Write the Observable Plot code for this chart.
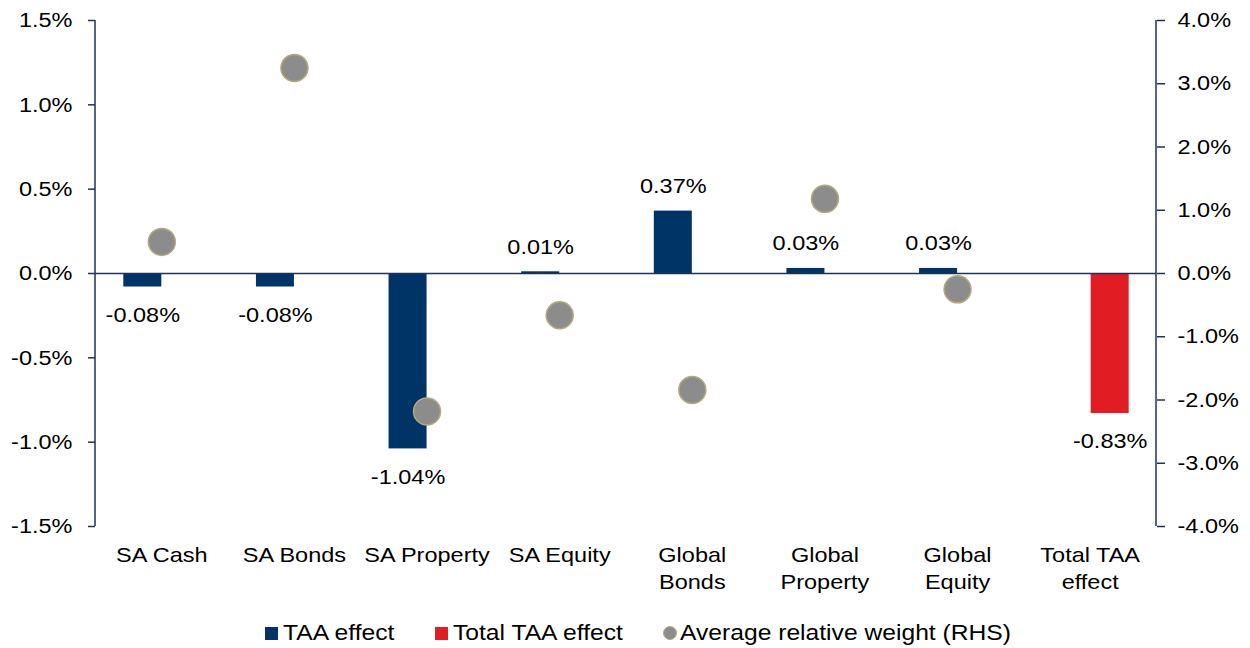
<!DOCTYPE html>
<html>
<head>
<meta charset="utf-8">
<script src="https://cdn.jsdelivr.net/npm/d3@7"></script>
<script src="https://cdn.jsdelivr.net/npm/@observablehq/plot@0.6"></script>
<style>
  html, body { margin: 0; padding: 0; background: #fff; }
  body { width: 1250px; height: 648px; overflow: hidden; font-family: "Liberation Sans", Arial, sans-serif; }
  #legend { display: flex; justify-content: center; align-items: center; font-size: 22px; color: #000; height: 30px; margin-top: 12px; padding-left: 26px; }
  .item { display: flex; align-items: center; margin: 0 20px; }
  .sw { width: 13px; height: 13px; margin-right: 5px; flex: none; }
  .dotsw { width: 12px; height: 12px; border-radius: 50%; background: #8c8c8c; border: 1.5px solid #b5a97f; margin-right: 3px; flex: none; }
  .lbl { display: inline-block; white-space: nowrap; }
  .lbl span { display: inline-block; transform: scaleX(1.12); transform-origin: left center; }
</style>
</head>
<body>
<div id="chart"></div>
<div id="legend">
  <div class="item"><div class="sw" style="background:#003366"></div><div class="lbl"><span>TAA effect</span></div></div>
  <div class="item"><div class="sw" style="background:#e21c23"></div><div class="lbl"><span>Total TAA effect</span></div></div>
  <div class="item"><div class="dotsw"></div><div class="lbl"><span>Average relative weight (RHS)</span></div></div>
</div>
<script>
const categories = ["SA Cash", "SA Bonds", "SA Property", "SA Equity", "Global Bonds", "Global Property", "Global Equity", "Total TAA effect"];
const categoryLabels = ["SA Cash", "SA Bonds", "SA Property", "SA Equity", "Global\nBonds", "Global\nProperty", "Global\nEquity", "Total TAA\neffect"];
const taaEffect = [-0.08, -0.08, -1.04, 0.01, 0.37, 0.03, 0.03, null];
const totalTaaEffect = [null, null, null, null, null, null, null, -0.83];
const avgRelWeight = [0.50, 3.25, -2.18, -0.66, -1.84, 1.18, -0.25, null];
const leftTicks = [-1.5, -1.0, -0.5, 0.0, 0.5, 1.0, 1.5];
const rightTicks = [-4, -3, -2, -1, 0, 1, 2, 3, 4];
const leftMax = 1.5, rightMax = 4.0;
const ratio = leftMax / rightMax;

const taaData = categories.map((c, i) => ({c, v: taaEffect[i]})).filter(d => d.v != null);
const totalData = categories.map((c, i) => ({c, v: totalTaaEffect[i]})).filter(d => d.v != null);
const dotData = categories.map((c, i) => ({c, v: avgRelWeight[i]})).filter(d => d.v != null);
const labelMap = new Map(categories.map((c, i) => [c, categoryLabels[i]]));

const W = 1250, H = 606, ML = 95, MR = 94, MT = 20, MB = 80;
const band = (W - ML - MR) / categories.length;
const barW = 38;
const leftInsetL = band / 2 - barW, leftInsetR = band / 2;
const rightInsetL = band / 2 + 1, rightInsetR = band / 2 - barW - 1;

const navy = "#003366", red = "#e21c23", axisCol = "#1f3354";
const fmt = v => v.toFixed(2) + "%";
const FS = 21;

const chart = Plot.plot({
  width: W,
  height: H,
  marginLeft: ML,
  marginRight: MR,
  marginTop: MT,
  marginBottom: MB,
  style: {fontFamily: "'Liberation Sans', Arial, sans-serif", fontSize: FS + "px", color: "#000", background: "#fff"},
  x: {domain: categories, padding: 0, round: false, label: null},
  y: {domain: [-leftMax, leftMax], label: null},
  marks: [
    Plot.barY(taaData, {x: "c", y: "v", fill: navy, insetLeft: leftInsetL, insetRight: leftInsetR}),
    Plot.barY(totalData, {x: "c", y: "v", fill: red, insetLeft: rightInsetL, insetRight: rightInsetR}),
    Plot.ruleY([0], {stroke: axisCol, strokeWidth: 1.5}),
    Plot.text(taaData, {x: "c", y: "v", text: d => fmt(d.v), dx: -barW / 2, fontSize: FS, fill: "#000",
      filter: d => d.v < 0, dy: 28}),
    Plot.text(taaData, {x: "c", y: "v", text: d => fmt(d.v), dx: -barW / 2, fontSize: FS, fill: "#000",
      filter: d => d.v >= 0, dy: -25}),
    Plot.text(totalData, {x: "c", y: "v", text: d => fmt(d.v), dx: barW / 2 + 1, fontSize: FS, fill: "#000", dy: 28}),
    Plot.dot(dotData, {x: "c", y: d => d.v * ratio, r: 13.5, fill: "#8c8c8c", stroke: "#b5a97f", strokeWidth: 1.5}),
    Plot.axisY({anchor: "left", ticks: leftTicks, tickFormat: d => d.toFixed(1) + "%", tickSize: 7, tickPadding: 16, stroke: axisCol, strokeWidth: 1.5, fontSize: FS, fill: "#000"}),
    Plot.axisY({anchor: "right", ticks: rightTicks.map(t => t * ratio), tickFormat: d => (d / ratio).toFixed(1) + "%", tickSize: 8, tickPadding: 13, stroke: axisCol, strokeWidth: 1.5, fontSize: FS, fill: "#000"}),
    Plot.axisX({tickSize: 0, tickPadding: 16, tickFormat: d => labelMap.get(d), fontSize: FS, fill: "#000", lineHeight: 1.3})
  ]
});

const svg = d3.select(chart);
svg.append("line").attr("x1", ML).attr("x2", ML).attr("y1", MT).attr("y2", H - MB).attr("stroke", axisCol).attr("stroke-width", 1.5);
svg.append("line").attr("x1", W - MR).attr("x2", W - MR).attr("y1", MT).attr("y2", H - MB).attr("stroke", axisCol).attr("stroke-width", 1.5);

// horizontally widen text glyphs to match the reference's stretched typeface
const SX = 1.12;
chart.querySelectorAll("text").forEach(t => {
  let tr = t.getAttribute("transform") || "";
  const x = +(t.getAttribute("x") || 0), y = +(t.getAttribute("y") || 0);
  if (x || y) {
    tr += ` translate(${x},${y})`;
    t.setAttribute("x", 0); t.setAttribute("y", 0);
  }
  t.setAttribute("transform", tr + ` scale(${SX},1)`);
});
document.getElementById("chart").appendChild(chart);

document.querySelectorAll(".lbl").forEach(l => {
  const s = l.querySelector("span");
  l.style.width = s.getBoundingClientRect().width + "px";
});
</script>
</body>
</html>
